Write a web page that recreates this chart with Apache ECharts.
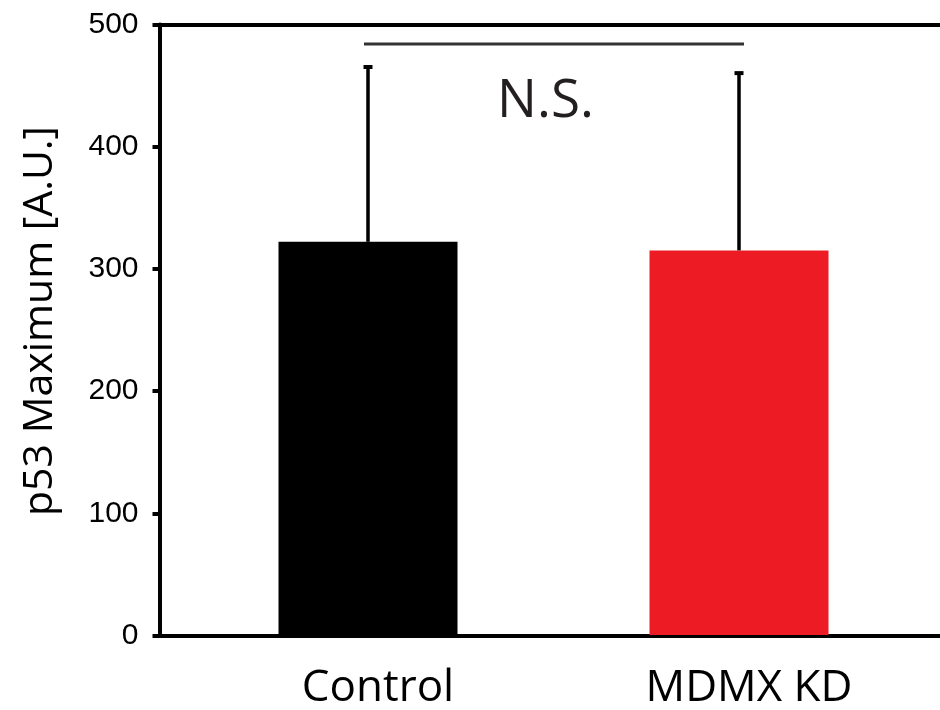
<!DOCTYPE html>
<html>
<head>
<meta charset="utf-8">
<script src="https://cdn.jsdelivr.net/npm/echarts@6/dist/echarts.min.js"></script>
<style>
  html, body { margin: 0; padding: 0; background: #ffffff; }
  #chart { width: 940px; height: 710px; }
</style>
</head>
<body>
<div id="chart"></div>
<script>
// p53 maximum intensity, control vs MDMX knockdown (mean + SD)
const categories = ['Control', 'MDMX KD'];
const means = [322, 315];
const errors = [144, 146];
const barColors = ['#000000', '#ED1C24'];
const yMin = 0;
const yMax = 500;
const yStep = 100;
const bracketY = 484;
const bracketLabel = 'N.S.';

const chart = echarts.init(document.getElementById('chart'), null, { renderer: 'canvas' });

const gridTop = 24.5;
const gridBottom = 74.5;

const option = {
  animation: false,
  backgroundColor: '#ffffff',
  grid: [
    { left: 159.5, right: 0, top: gridTop, bottom: gridBottom },
    { left: 182.5, right: 15.5, top: gridTop, bottom: gridBottom }
  ],
  xAxis: [
    {
      type: 'category', gridIndex: 0, data: categories, position: 'bottom',
      axisLine: { show: true, lineStyle: { color: '#000', width: 4 } },
      axisTick: { show: false }, axisLabel: { show: false }, splitLine: { show: false }
    },
    {
      type: 'category', gridIndex: 1, data: categories,
      axisLine: { show: false }, axisTick: { show: false }, splitLine: { show: false },
      axisLabel: {
        show: true, margin: 31, color: '#000',
        fontFamily: 'Open Sans', fontSize: 44, padding: [0, 0, 0, 20]
      }
    },
    {
      type: 'category', gridIndex: 0, data: categories, position: 'top',
      axisLine: { show: true, lineStyle: { color: '#000', width: 4 } },
      axisTick: { show: false }, axisLabel: { show: false }, splitLine: { show: false }
    }
  ],
  yAxis: [
    {
      type: 'value', gridIndex: 0, min: yMin, max: yMax, interval: yStep,
      name: 'p53 Maximum [A.U.]', nameLocation: 'middle', nameGap: 99,
      nameTextStyle: { fontFamily: 'Open Sans', fontSize: 41, color: '#000', padding: [0, 0, 0, 18] },
      axisLine: { show: true, lineStyle: { color: '#000', width: 4 } },
      axisTick: { show: true, length: 7, lineStyle: { color: '#000', width: 4 } },
      axisLabel: { margin: 21, color: '#000', fontFamily: 'Liberation Sans', fontSize: 30 },
      splitLine: { show: false }
    },
    {
      type: 'value', gridIndex: 1, min: yMin, max: yMax, interval: yStep,
      show: false
    }
  ],
  series: [
    {
      type: 'bar', xAxisIndex: 1, yAxisIndex: 1, barWidth: 179,
      data: means.map((v, i) => ({ value: v, itemStyle: { color: barColors[i] } })),
      z: 2
    },
    {
      // upward SD whiskers with flat caps
      type: 'custom', xAxisIndex: 1, yAxisIndex: 1, z: 3,
      data: means.map((v, i) => [i, v, v + errors[i]]),
      renderItem: function (params, api) {
        const base = api.coord([api.value(0), api.value(1)]);
        const top = api.coord([api.value(0), api.value(2)]);
        const capW = 9;
        return {
          type: 'group',
          children: [
            { type: 'line', shape: { x1: base[0], y1: base[1], x2: top[0], y2: top[1] },
              style: { stroke: '#000', lineWidth: 3.5 } },
            { type: 'rect', shape: { x: top[0] - capW / 2, y: top[1] - 1, width: capW, height: 4 },
              style: { fill: '#000' } }
          ]
        };
      }
    },
    {
      // significance bracket between the two groups
      type: 'custom', xAxisIndex: 1, yAxisIndex: 1, z: 3,
      data: [[0, 1, bracketY]],
      renderItem: function (params, api) {
        const a = api.coord([api.value(0), api.value(2)]);
        const b = api.coord([api.value(1), api.value(2)]);
        const midX = (a[0] + b[0]) / 2;
        return {
          type: 'group',
          children: [
            { type: 'line', shape: { x1: a[0] - 4, y1: a[1], x2: b[0] + 5, y2: b[1] },
              style: { stroke: '#333333', lineWidth: 3 } },
            { type: 'text', x: midX - 8, y: a[1] + 58,
              style: { text: bracketLabel, fill: '#231F20', font: '53px "Open Sans"',
                       align: 'center', verticalAlign: 'middle' } }
          ]
        };
      }
    }
  ]
};

chart.setOption(option);
</script>
</body>
</html>
